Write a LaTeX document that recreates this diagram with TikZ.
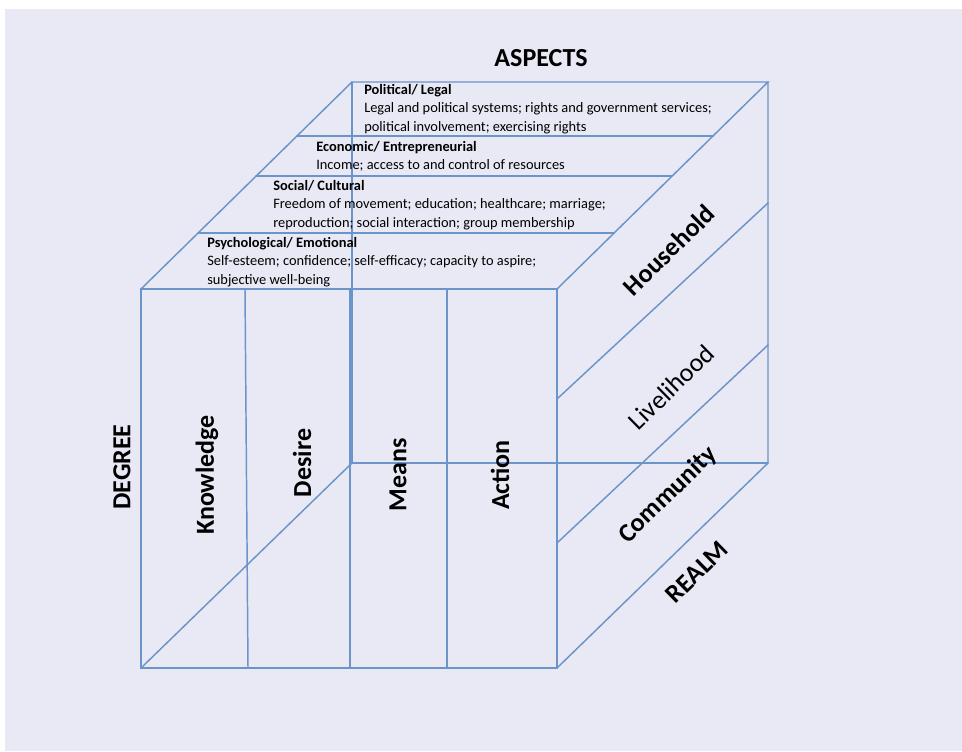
\documentclass[tikz,border=0pt]{standalone}
\usepackage{fontspec}
\setmainfont{Carlito}
\usetikzlibrary{positioning, calc}
\definecolor{lila}{HTML}{E9E9F5}
\definecolor{kante}{HTML}{6B94C9}

\tikzset{
    edge/.style={draw=kante, line width=1.1pt, line cap=round},
    aspect/.style={anchor=north west, inner sep=0pt, align=left,
        font=\fontsize{10.8}{13.9}\selectfont},
    biglabel/.style={inner sep=0pt, font=\fontsize{19.5}{22}\selectfont\bfseries},
    realmlabel/.style={biglabel, rotate=44.5}
}

\begin{document}
\begin{tikzpicture}[x=0.75pt, y=-0.75pt]
                % page and background
                \useasboundingbox (0,0) rectangle (962,751);
                \fill[white] (0,0) rectangle (962,751);
                \fill[lila] (5,9) rectangle (962,751);

                % cube corners
                \coordinate (ftl) at (141,289);
                \coordinate (ftr) at (557,289);
                \coordinate (fbr) at (557,668);
                \coordinate (fbl) at (141,668);
                \coordinate (btl) at (352,82);
                \coordinate (btr) at (768,82);
                \coordinate (bbr) at (768,463);
                \coordinate (bbl) at (352,463);

                % hidden back edges
                \draw[edge] (btl) -- (bbl) -- (bbr);
                \draw[edge] (fbl) -- (bbl);

                % outer edges
                \draw[edge] (ftl) -- (ftr) -- (fbr) -- (fbl) -- cycle;
                \draw[edge] (ftl) -- (btl) -- (btr) -- (ftr);
                \draw[edge] (btr) -- (bbr) -- (fbr);

                % front dividers
                \foreach \a/\b in {245/248, 350/350, 447/447}
                    \draw[edge] (\a,289) -- (\b,668);

                % top dividers
                \foreach \t in {0.27, 0.545, 0.74}
                    \draw[edge] ($(ftl)!\t!(btl)$) -- ($(ftr)!\t!(btr)$);

                % side dividers
                \draw[edge] (557,399) -- (768,203);
                \draw[edge] (557,543) -- (768,345);

                % aspects on the top face
                \node[aspect] (pol) at (364,84) {\textbf{Political/ Legal}\\
                    Legal and political systems; rights and government services;\\
                    political involvement; exercising rights};
                \node[aspect] (eco) at (316,141) {\textbf{Economic/ Entrepreneurial}\\
                    Income; access to and control of resources};
                \node[aspect] (soc) at (273,180) {\textbf{Social/ Cultural}\\
                    Freedom of movement; education; healthcare; marriage;\\
                    reproduction; social interaction; group membership};
                \node[aspect] (psy) at (207,237) {\textbf{Psychological/ Emotional}\\
                    Self-esteem; confidence; self-efficacy; capacity to aspire;\\
                    subjective well-being};

                % degree on the front face
                \node[biglabel] (aspects) at (541,58) {ASPECTS};
                \node[biglabel, rotate=90] (degree) at (122,467) {DEGREE};
                \node[biglabel, rotate=90] (know) at (207,475) {Knowledge};
                \node[biglabel, rotate=90] (desire) at (302,463) {Desire};
                \node[biglabel, rotate=90] (means) at (398,475) {Means};
                \node[biglabel, rotate=90] (action) at (500,475) {Action};

                % realm on the side face
                \node[realmlabel] (house) at (669,250) {Household};
                \node[realmlabel, font=\fontsize{19.5}{22}\selectfont] (live) at (671,387) {Livelihood};
                \node[realmlabel] (comm) at (668,495) {Community};
                \node[realmlabel] (realm) at (697,572) {REALM};
            \end{tikzpicture}
\end{document}
